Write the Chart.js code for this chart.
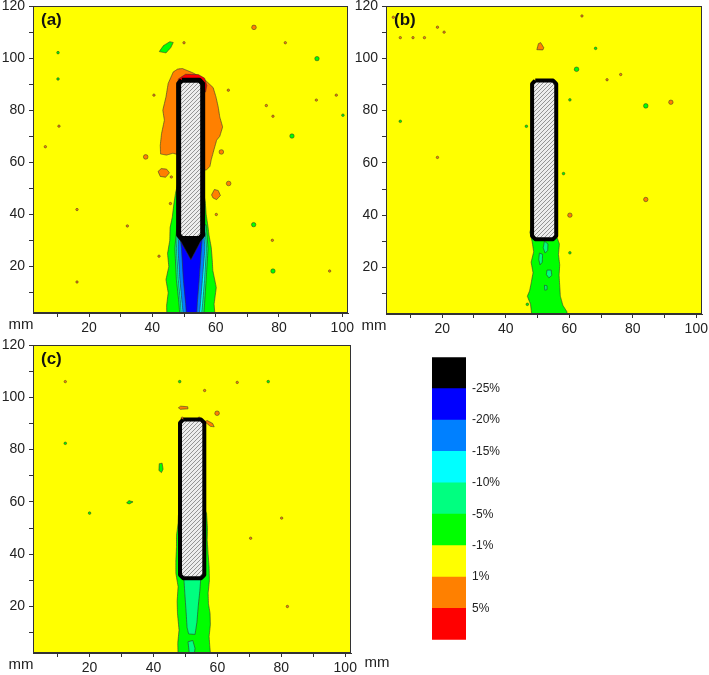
<!DOCTYPE html>
<html><head><meta charset="utf-8">
<script src="https://cdn.jsdelivr.net/npm/chart.js@4/dist/chart.umd.min.js"></script>
<style>
html,body{margin:0;padding:0;background:#fff;width:709px;height:675px;overflow:hidden;position:relative}
canvas{position:absolute}
</style></head><body>
<canvas id="pa"></canvas><canvas id="pb"></canvas><canvas id="pc"></canvas><canvas id="cb"></canvas>
<script>
// ---------- axis ranges / ticks (mm) ----------
const xRange = [2.3, 101.8];
const yRange = [2.2, 120];
const tickStep = 10;
const labelStep = 20;
// ---------- pile outline (mm) ----------
const pileX = [48.3, 55.9];
const pileY = [30.8, 91.5];
// ---------- colour scale ----------
const levelColors = ['#FF0000','#FF8000','#FFFF00','#00FF00','#00FF80','#00FFFF','#0080FF','#0000FF','#000000'];
const levelLabels = ['5%','1%','-1%','-5%','-10%','-15%','-20%','-25%'];

// ---------- panel (a) ----------
const aOrange = [[49.5,96],[52.9,94.3],[56.6,91.7],[59.2,88.7],[60.1,85.1],[60.8,81.3],[61.3,77.4],[62.2,73.6],[61.3,70],[60.3,68.5],[59.5,65],[58.6,61],[58.2,58.5],[57,57],[55,58],[48,63],[46.5,63.5],[44.5,62.8],[42.6,63.2],[42.5,66.5],[42.9,71],[43.8,76.2],[43.3,80],[44.3,85.1],[45,90.3],[46.6,94.7],[48,95.8]];
const aRed = [[47.8,88.5],[48.2,92],[50.5,93.8],[54.5,93.7],[56.5,92.3],[57.2,89.5],[56.8,87],[52,88]];
const aGreen = [[48,52],[47.3,48],[46.8,44],[46.3,39],[45.6,35],[45.5,30],[44.8,25],[45.2,20],[44.3,15],[45,10],[44.5,5],[44.6,1],[59.8,1],[59.5,5.6],[60.2,12],[59.1,18.5],[58.9,23],[58.6,27.4],[57.9,32],[57.6,35.1],[57,40],[56.7,45],[56.2,48],[54,50]];
const aSeaGreen = [[47.8,36],[47.1,27],[47.6,15],[48.4,6],[48.7,1],[56.2,1],[56.5,6],[57,15],[57.6,27],[57,36]];
const aCyan = [[48,33],[47.6,27],[48.2,15],[48.9,6],[49.2,1],[55.5,1],[55.9,6],[56.5,15],[57.1,27],[56.7,33]];
const aMidBlue = [[48.4,32],[48.1,27],[48.7,15],[49.4,6],[49.8,1],[54.8,1],[55.2,6],[55.8,15],[56.6,27],[56.3,32]];
const aBlue = [[48.8,31.5],[49.2,27],[49.8,15],[50.5,6],[50.8,1],[54,1],[54.2,6],[54.8,15],[55.5,27],[55.8,31.5]];
const aBlack = [[48.4,31],[52.2,22.6],[55.8,31]];
const aOrangeBlobs = [
  [[41.8,56.5],[42.8,57.6],[44.5,57.4],[45.4,56],[44.2,54.3],[42.5,54.6]],
  [[58.7,47.5],[59.6,49.6],[60.8,49.2],[61.5,47.3],[60.3,45.7],[59.2,46.3]]
];
const aGreenBlobs = [[[42.2,102.5],[43.5,104.8],[45.5,106.3],[46.6,106],[45.8,104],[44.3,102]]];
const aOrangeSpots = [[64.1,51.9],[61.8,64],[37.9,62.1],[72.1,111.8]];
const aOrangeDots = [[82,105.9],[50,105.9],[64,87.7],[10.5,73.9],[60.2,40],[46,54.4],[45.7,44.2],[6.2,66],[32.1,35.6],[42.1,24],[16.2,14.1],[96,18.3],[77.9,30.1],[40.5,85.8],[76,81.8],[98.1,85.8],[91.8,83.9],[78.1,77.7],[16.2,41.9]];
const aGreenSpots = [[72,36.1],[84.1,70.1],[92,99.8],[78.1,18.3]];
const aGreenDots = [[10.2,102.1],[10.2,92],[100.2,78.1]];

// ---------- panel (b) ----------
const bGreen = [[48.2,36],[47.6,33.5],[48.3,30],[48.8,26],[48,22],[48.6,18],[48,14],[47.5,11],[46.8,9],[47.8,6],[48.3,1],[59.2,1],[59.3,3],[58,5.5],[57.2,9],[57,13],[56.8,17],[57,21],[56.6,25],[56.9,29],[56.3,31],[55.9,32]];
const bSeaGreenBlobs = [
  [[52.2,30],[53.3,29],[53.2,26.5],[52.4,25.5],[51.8,27.5]],
  [[50.6,25.5],[51.6,25],[51.5,22],[50.8,21],[50.4,23]],
  [[53,19],[54.3,19],[54.5,17],[53.6,16],[52.8,17.3]],
  [[52.2,13.2],[53,13],[53,11.5],[52.3,11.3]]
];
const bOrangeBlobs = [[[49.8,103.3],[50.3,105.6],[51,106],[52,104],[51.7,103.2]]];
const bOrangeSpots = [[60.2,40],[84.1,46],[92,83.2]];
const bOrangeDots = [[4.6,115.7],[6.8,107.9],[10.8,107.9],[14.4,107.9],[18.5,111.9],[20.6,110],[64,116.2],[71.9,91.8],[18.5,62.1],[76.2,93.8]];
const bGreenSpots = [[84.1,81.8],[62.3,95.8]];
const bGreenDots = [[68.3,103.8],[6.8,75.9],[46.5,74],[60.2,84.1],[58.2,55.9],[60.2,25.6],[46.8,5.9]];

// ---------- panel (c) ----------
const cGreen = [[47.8,55],[47.7,51.9],[47.2,47],[47.2,42.9],[47,37],[47,32.7],[47.7,27.6],[47.4,22],[47.5,17.4],[48,11],[47.6,6],[47.7,1],[57.9,1],[57.6,5],[57.4,8.5],[57.8,13],[57.7,17.4],[57.2,21],[57.1,25.1],[57.5,30],[57.4,35.3],[57.1,40],[56.8,45.5],[56.9,50],[56.6,55.7],[56,57],[52,56]];
const cSeaGreen = [[49.5,31],[49.8,25],[50.2,18],[50.5,12],[51,9.5],[53,9.3],[53.6,14],[54,20],[54.5,26],[54.8,31]];
const cSeaGreenBlobs = [[[50.8,6.5],[52.3,7],[53,4],[52.8,2.2],[51.2,2.2]]];
const cOrangeBlobs = [
  [[47.8,96],[48.5,96.6],[50.7,96.4],[50.8,95.6],[48.4,95.4]],
  [[56,90.7],[56.8,91.1],[58.5,90],[59,88.7],[57.8,88.9]]
];
const cGreenBlobs = [
  [[41.8,74.6],[42.7,74.8],[43,72.5],[42.5,71.2],[41.7,72]],
  [[31.6,59.6],[32.3,60.5],[33.6,60],[32.4,59.2]]
];
const cOrangeSpots = [[59.9,93.9]];
const cOrangeDots = [[12.4,106],[56,102.6],[81.9,20],[70.4,46.1],[80.1,53.8],[49,92],[54.3,92],[66.2,105.7]];
const cGreenSpots = [];
const cGreenDots = [[12.4,82.4],[48.2,106],[75.9,106],[20,55.7]];

// ---------- styling ----------
const FONT = 'Arial, "Liberation Sans", Helvetica, sans-serif';
const LINE = 'rgba(50,50,50,0.85)';
const C = {red:levelColors[0], orange:levelColors[1], yellow:levelColors[2], green:levelColors[3], sea:levelColors[4], cyan:levelColors[5], mid:levelColors[6], blue:levelColors[7], black:levelColors[8]};

function hatch(){
  const c=document.createElement('canvas');c.width=4;c.height=4;
  const g=c.getContext('2d');
  g.fillStyle='#ededed';g.fillRect(0,0,4,4);
  g.strokeStyle='#8a8a8a';g.lineWidth=0.9;
  g.beginPath();g.moveTo(0,4);g.lineTo(4,0);g.moveTo(-1,1);g.lineTo(1,-1);g.moveTo(3,5);g.lineTo(5,3);g.stroke();
  return g.createPattern(c,'repeat');
}
const HATCH = hatch();

const P = a => a.map(([x,y]) => ({x,y}));
function region(pts,color){return {data:P(pts.concat([pts[0]])),showLine:true,fill:'shape',backgroundColor:color,borderColor:LINE,borderWidth:0.7,pointRadius:0,tension:0.001};}
function dots(pts,color,r){return {data:P(pts),showLine:false,fill:false,pointRadius:r,pointBackgroundColor:color,backgroundColor:color,pointBorderColor:LINE,pointBorderWidth:0.6,borderWidth:0};}
function pile(w){
  const [x0,x1]=pileX,[y0,y1]=pileY,cx=1.0,cy=1.3;
  const pts=[[x0+cx,y1],[x1-cx,y1],[x1,y1-cy],[x1,y0+cy],[x1-cx,y0],[x0+cx,y0],[x0,y0+cy],[x0,y1-cy]];
  const d=region(pts,HATCH);d.borderColor='#000';d.borderWidth=w;d.borderJoinStyle='round';return d;
}

const deco={
  id:'deco',
  beforeDatasetsDraw(chart,args,o){
    const {ctx,chartArea:a}=chart;ctx.save();ctx.fillStyle=C.yellow;
    ctx.fillRect(a.left,a.top,a.right-a.left,a.bottom-a.top);ctx.restore();
  },
  afterDraw(chart,args,o){
    const {ctx,chartArea:a}=chart;ctx.save();
    ctx.strokeStyle='#333';ctx.lineWidth=1;
    ctx.strokeRect(Math.round(a.left)+0.5,Math.round(a.top)+0.5,Math.round(a.right-a.left)-1,Math.round(a.bottom-a.top)-1);
    ctx.fillStyle='#111';ctx.font='bold 17px '+FONT;ctx.textAlign='left';ctx.textBaseline='top';
    ctx.fillText(o.label,a.left+8,a.top+6);
    ctx.fillStyle='#222';ctx.font='15px '+FONT;ctx.textAlign='center';ctx.textBaseline='alphabetic';
    ctx.fillText('mm',a.left-12,a.bottom+16);
    if(o.mmRight) ctx.fillText('mm',a.right+26,a.bottom+14);
    ctx.restore();
  }
};

function axis(isX){
  return {
    type:'linear',min:isX?xRange[0]:yRange[0],max:isX?xRange[1]:yRange[1],
    afterFit:s=>{ if(isX) s.height=26; else s.width=33; },
    ticks:{stepSize:tickStep,autoSkip:false,includeBounds:false,maxRotation:0,minRotation:0,padding:isX?3:4,color:'#222',font:{size:14,family:FONT},
      callback:v=>(Math.abs(v%labelStep)<1e-6?String(v):'')},
    grid:{drawOnChartArea:false,drawTicks:true,tickLength:4,color:'#333',lineWidth:1},
    border:{display:true,color:'#333',width:1}
  };
}

function panel(id,area,label,layers,mmRight){
  const mL=40,mT=14,mR=45,mB=36;
  const cv=document.getElementById(id);
  cv.width=area.R-area.L+mL+mR;cv.height=area.B-area.T+mT+mB;
  cv.style.left=(area.L-mL)+'px';cv.style.top=(area.T-mT)+'px';
  const n=layers.length;
  layers.forEach((d,i)=>{d.order=n-i;});
  new Chart(cv,{type:'line',data:{datasets:layers},
    options:{responsive:false,animation:false,devicePixelRatio:1,events:[],
      layout:{padding:{left:mL-33,top:mT,right:mR,bottom:mB-26}},
      plugins:{legend:{display:false},tooltip:{enabled:false},deco:{label,mmRight}},
      scales:{x:axis(true),y:axis(false)}},
    plugins:[deco]});
}

panel('pa',{L:33,T:6,R:348,B:313},'(a)',[
  region(aOrange,C.orange),region(aRed,C.red),
  region(aGreen,C.green),region(aSeaGreen,C.sea),region(aCyan,C.cyan),region(aMidBlue,C.mid),region(aBlue,C.blue),
  ...aOrangeBlobs.map(b=>region(b,C.orange)),...aGreenBlobs.map(b=>region(b,C.green)),
  dots(aOrangeSpots,C.orange,2.3),dots(aOrangeDots,C.orange,1.2),dots(aGreenSpots,C.green,2.2),dots(aGreenDots,C.green,1.3),
  region(aBlack,C.black),pile(5)
]);
panel('pb',{L:386,T:6,R:702,B:314},'(b)',[
  region(bGreen,C.green),...bSeaGreenBlobs.map(b=>region(b,C.sea)),
  ...bOrangeBlobs.map(b=>region(b,C.orange)),
  dots(bOrangeSpots,C.orange,2.2),dots(bOrangeDots,C.orange,1.2),dots(bGreenSpots,C.green,2.3),dots(bGreenDots,C.green,1.3),
  pile(4)
]);
panel('pc',{L:33,T:345,R:351,B:653},'(c)',[
  region(cGreen,C.green),region(cSeaGreen,C.sea),...cSeaGreenBlobs.map(b=>region(b,C.sea)),
  ...cOrangeBlobs.map(b=>region(b,C.orange)),...cGreenBlobs.map(b=>region(b,C.green)),
  dots(cOrangeSpots,C.orange,2.3),dots(cOrangeDots,C.orange,1.2),dots(cGreenSpots,C.green,2.2),dots(cGreenDots,C.green,1.3),
  pile(4)
],true);

// ---------- colour bar ----------
(function(){
  const area={L:432,T:354,R:466,B:643};
  const pl=5,pt=10,pb=10,yw=50,pr=10;
  const cv=document.getElementById('cb');
  cv.width=pl+(area.R-area.L)+yw+pr;cv.height=pt+(area.B-area.T)+pb;
  cv.style.left=(area.L-pl)+'px';cv.style.top=(area.T-pt)+'px';
  new Chart(cv,{type:'bar',
    data:{labels:[''],datasets:levelColors.map(c=>({data:[1],backgroundColor:c,borderWidth:0,barPercentage:1,categoryPercentage:1}))},
    options:{responsive:false,animation:false,devicePixelRatio:1,events:[],
      layout:{padding:{left:pl,top:pt,bottom:pb,right:pr}},
      plugins:{legend:{display:false},tooltip:{enabled:false}},
      scales:{
        x:{stacked:true,display:false},
        y:{stacked:true,position:'right',min:0,max:levelColors.length,afterFit:s=>{s.width=yw;},
          ticks:{stepSize:1,autoSkip:false,padding:6,color:'#222',font:{size:12,family:FONT},
            callback:v=>(v>=1&&v<=levelLabels.length?levelLabels[v-1]:'')},
          grid:{display:false,drawTicks:false},border:{display:false}}
      }}});
})();
</script>
</body></html>
